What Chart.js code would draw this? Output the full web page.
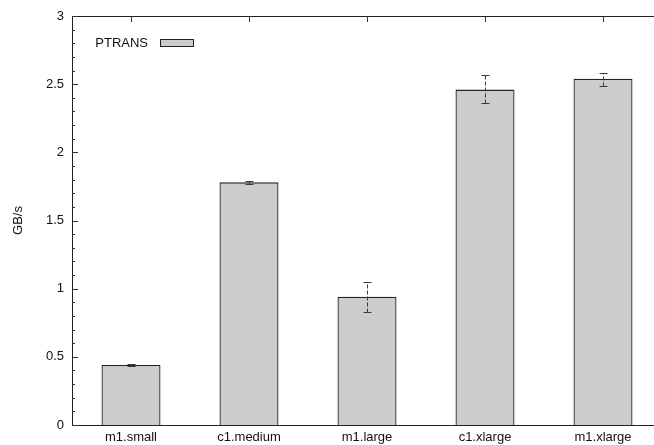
<!DOCTYPE html>
<html><head><meta charset="utf-8">
<script src="https://cdn.jsdelivr.net/npm/chart.js@4/dist/chart.umd.min.js"></script>
<style>html,body{margin:0;padding:0;overflow:hidden;background:#fff;width:654px;height:445px}canvas{display:block}</style>
</head><body>
<canvas id="c" width="670" height="445"></canvas>
<script>
const categories = ['m1.small','c1.medium','m1.large','c1.xlarge','m1.xlarge'];
const values = [0.44, 1.78, 0.94, 2.46, 2.54];
const errLow = [0.43, 1.77, 0.83, 2.36, 2.49];
const errHigh = [0.45, 1.79, 1.05, 2.565, 2.58];
const seriesName = 'PTRANS';
const yMajorTicks = [0, 0.5, 1, 1.5, 2, 2.5, 3];

const FONT = 'Liberation Sans, Arial, sans-serif';

const decor = {
  id: 'decor',
  afterDatasetsDraw(chart) {
    const ctx = chart.ctx, a = chart.chartArea, x = chart.scales.x, y = chart.scales.y;
    ctx.save();
    // error bars
    ctx.strokeStyle = '#3a3a3a';
    ctx.lineWidth = 1;
    values.forEach((v, i) => {
      const cx = Math.round(x.getPixelForValue(i)) + 0.5;
      const yl = Math.round(y.getPixelForValue(errLow[i])) + 0.5;
      const yh = Math.round(y.getPixelForValue(errHigh[i])) + 0.5;
      ctx.setLineDash([4, 2]);
      ctx.beginPath(); ctx.moveTo(cx, yl); ctx.lineTo(cx, yh); ctx.stroke();
      ctx.setLineDash([]);
      ctx.beginPath();
      ctx.moveTo(cx - 4, yl); ctx.lineTo(cx + 4, yl);
      ctx.moveTo(cx - 4, yh); ctx.lineTo(cx + 4, yh);
      ctx.stroke();
    });
    // frame
    ctx.strokeStyle = '#222';
    ctx.beginPath();
    ctx.moveTo(a.left + 0.5, a.bottom + 0.5); ctx.lineTo(a.left + 0.5, a.top + 0.5); ctx.lineTo(a.right, a.top + 0.5);
    ctx.moveTo(a.left, a.bottom + 0.5); ctx.lineTo(a.right, a.bottom + 0.5);
    ctx.stroke();
    // y ticks inward (major + minor)
    ctx.strokeStyle = '#333';
    ctx.beginPath();
    for (let k = 0; k <= 30; k++) {
      const val = k / 10;
      const py = Math.round(y.getPixelForValue(val)) + 0.5;
      const len = (k % 5 === 0) ? 6 : 3;
      ctx.moveTo(a.left, py); ctx.lineTo(a.left + len, py);
    }
    // x ticks at top (downward)
    categories.forEach((c, i) => {
      const px = Math.round(x.getPixelForValue(i)) + 0.5;
      ctx.moveTo(px, a.top); ctx.lineTo(px, a.top + 6);
    });
    ctx.stroke();
    // legend
    ctx.font = '13px ' + FONT;
    ctx.fillStyle = '#111';
    ctx.textAlign = 'right';
    ctx.textBaseline = 'middle';
    ctx.fillText(seriesName, 148, 43);
    ctx.fillStyle = '#cccccc';
    ctx.fillRect(160.5, 39.5, 33, 7);
    ctx.strokeStyle = '#222';
    ctx.strokeRect(160.5, 39.5, 33, 7);
    ctx.restore();
  }
};

new Chart(document.getElementById('c'), {
  type: 'bar',
  data: {
    labels: categories,
    datasets: [{
      label: seriesName,
      data: values,
      backgroundColor: '#cccccc',
      borderColor: '#222222',
      borderWidth: 1.3,
      borderSkipped: 'bottom',
      categoryPercentage: 0.5,
      barPercentage: 1.0
    }]
  },
  options: {
    responsive: false,
    animation: false,
    layout: { padding: { top: 16, right: 8, left: 11, bottom: 0 } },
    plugins: { legend: { display: false }, tooltip: { enabled: false } },
    scales: {
      x: {
        offset: true,
        grid: { display: false, drawTicks: false },
        border: { display: false },
        ticks: { color: '#111', font: { family: FONT, size: 13 }, padding: 5, maxRotation: 0 },
        afterFit(s) { s.height = 20; }
      },
      y: {
        min: 0, max: 3,
        afterBuildTicks(s) { s.ticks = yMajorTicks.map(v => ({ value: v })); },
        grid: { display: false, drawTicks: false },
        border: { display: false },
        ticks: { color: '#111', font: { family: FONT, size: 13 }, padding: 8, callback: v => String(v) },
        title: { display: true, text: 'GB/s', color: '#111', font: { family: FONT, size: 13 }, padding: 0 },
        afterFit(s) { s.width = 61; }
      }
    }
  },
  plugins: [decor]
});
</script>
</body></html>
